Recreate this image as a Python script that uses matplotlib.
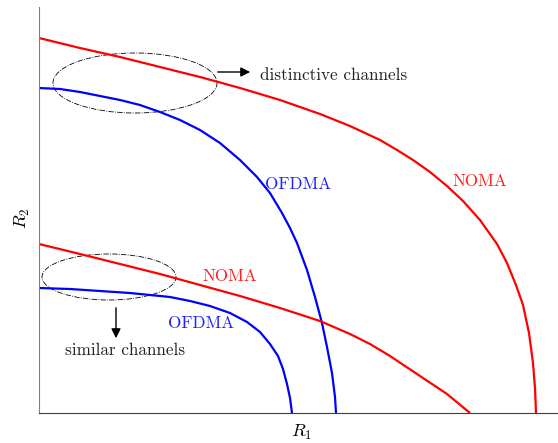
import matplotlib
matplotlib.use("Agg")
import matplotlib.pyplot as plt
from matplotlib.patches import Ellipse

plt.rcParams['font.family'] = 'serif'
plt.rcParams['font.serif'] = ['cmr10', 'DejaVu Serif']
plt.rcParams['mathtext.fontset'] = 'cm'
plt.rcParams['axes.unicode_minus'] = False

# Capacity region boundaries (x = R1, y = R2)
noma_outer_x = [0, 41, 81, 121, 161, 201, 241, 281, 311, 341, 358, 374, 391, 408, 424, 441,
                458, 468, 477, 484, 490, 494, 496, 497]
noma_outer_y = [375, 365, 356, 346, 336, 325, 313, 299, 287, 273, 263, 253, 241, 227, 212, 193,
                169, 150, 128, 108, 80, 50, 25, 0]

ofdma_outer_x = [0, 21, 41, 61, 81, 101, 121, 141, 161, 181, 201, 218, 231, 243, 251, 258,
                 268, 276, 283, 288, 293, 296, 297]
ofdma_outer_y = [325, 324, 321, 317, 313, 308, 301, 293, 283, 270, 253, 236, 220, 200, 185, 170,
                 143, 116, 90, 66, 40, 16, 0]

noma_inner_x = [0, 41, 81, 121, 161, 201, 241, 281, 311, 331, 351, 381, 408, 431]
noma_inner_y = [169, 159, 149, 139, 128, 117, 105, 92, 79, 69, 57, 37, 19, 0]

ofdma_inner_x = [0, 31, 61, 91, 111, 131, 151, 171, 191, 208, 221, 231, 239, 244, 248, 251, 253]
ofdma_inner_y = [125, 124, 122, 120, 118, 116, 112, 107, 100, 91, 81, 69, 57, 44, 29, 15, 0]

labels = ["NOMA", "OFDMA", "NOMA", "OFDMA"]
annotations = ["distinctive channels", "similar channels"]

W, H = 558, 443
fig = plt.figure(figsize=(W / 100, H / 100), dpi=100)
ax = fig.add_axes([39 / W, 30 / H, 519 / W, 406 / H])
ax.set_xlim(0, 519)
ax.set_ylim(0, 406)

lw = 1.6
for xs, ys, c in [(noma_outer_x, noma_outer_y, '#ff0000'),
                  (ofdma_outer_x, ofdma_outer_y, '#0000ff'),
                  (noma_inner_x, noma_inner_y, '#ff0000'),
                  (ofdma_inner_x, ofdma_inner_y, '#0000ff')]:
    ax.plot(xs, ys, color=c, lw=lw, solid_joinstyle='round', solid_capstyle='butt')

fs = 12.3
ax.text(441, 232, labels[0], color='#ff2020', fontsize=fs, ha='center', va='center')
ax.text(259, 229, labels[1], color='#2020ff', fontsize=fs, ha='center', va='center')
ax.text(191, 137, labels[2], color='#ff2020', fontsize=fs, ha='center', va='center')
ax.text(162, 90, labels[3], color='#2020ff', fontsize=fs, ha='center', va='center')

ax.add_patch(Ellipse((96, 330), 164, 60, fill=False, ec='black', lw=0.6, ls='-.'))
ax.add_patch(Ellipse((70, 136), 134, 46, fill=False, ec='black', lw=0.6, ls='-.'))

ax.annotate('', xy=(214, 341), xytext=(176, 341),
            arrowprops=dict(arrowstyle='-|>', color='black', lw=1.0, mutation_scale=14))
ax.text(221, 338, annotations[0], fontsize=fs, ha='left', va='center', color='#222222')
ax.annotate('', xy=(77, 72), xytext=(77, 108),
            arrowprops=dict(arrowstyle='-|>', color='black', lw=1.0, mutation_scale=14))
ax.text(86, 63, annotations[1], fontsize=fs, ha='center', va='center', color='#222222')

for s in ['top', 'right']:
    ax.spines[s].set_visible(False)
ax.spines['left'].set_color('#808080')
ax.spines['bottom'].set_color('#404040')
ax.set_xticks([])
ax.set_yticks([])

fig.text(302 / W, 1 - 432 / H, r'$R_1$', fontsize=13, ha='center', va='center')
fig.text(22 / W, 1 - 218 / H, r'$R_2$', fontsize=13, ha='center', va='center', rotation=90)

fig.savefig('out.png', dpi=100)
